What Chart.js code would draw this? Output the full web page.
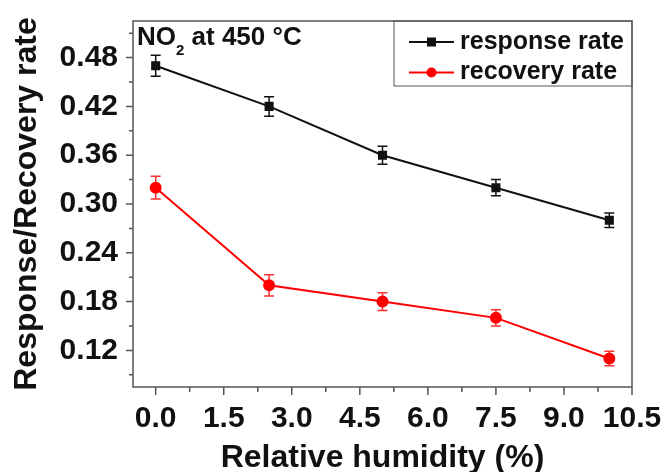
<!DOCTYPE html>
<html>
<head>
<meta charset="utf-8">
<script src="https://cdn.jsdelivr.net/npm/chart.js@4.4.0/dist/chart.umd.min.js"></script>
<style>
  html, body { margin: 0; padding: 0; background: #fff; }
  #wrap { width: 667px; height: 472px; }
</style>
</head>
<body>
<div id="wrap"><canvas id="chart" width="667" height="472"></canvas></div>
<script>
// data
const humidity = [0, 2.5, 5, 7.5, 10];
const responseRate = [0.47, 0.42, 0.36, 0.32, 0.28];
const responseErr = [0.013, 0.012, 0.011, 0.010, 0.009];
const recoveryRate = [0.32, 0.20, 0.18, 0.16, 0.11];
const recoveryErr = [0.014, 0.013, 0.011, 0.010, 0.009];
const xTicks = [0, 1.5, 3, 4.5, 6, 7.5, 9, 10.5];
const yTicks = [0.12, 0.18, 0.24, 0.30, 0.36, 0.42, 0.48];
const xMinor = [0.75, 2.25, 3.75, 5.25, 6.75, 8.25, 9.75];
const yMinor = [0.09, 0.15, 0.21, 0.27, 0.33, 0.39, 0.45, 0.51];

const FONT = "'Liberation Sans', Arial, sans-serif";

function pts(xs, ys) {
    return xs.map((x, i) => ({ x: x, y: ys[i] }));
}

// error bars, axis frame, ticks, note and legend
const extras = {
    id: 'extras',
    beforeDatasetsDraw(chart) {
        const ctx = chart.ctx;
        const xs = chart.scales.x, ys = chart.scales.y;
        const errs = [responseErr, recoveryErr];
        const cols = ['#111', '#ff3030'];
        ctx.save();
        ctx.lineWidth = 1.5;
        chart.data.datasets.forEach((ds, di) => {
            ctx.strokeStyle = cols[di];
            ds.data.forEach((p, i) => {
                const px = xs.getPixelForValue(p.x);
                const top = ys.getPixelForValue(p.y + errs[di][i]);
                const bot = ys.getPixelForValue(p.y - errs[di][i]);
                ctx.beginPath();
                ctx.moveTo(px, top); ctx.lineTo(px, bot);
                ctx.moveTo(px - 5, top); ctx.lineTo(px + 5, top);
                ctx.moveTo(px - 5, bot); ctx.lineTo(px + 5, bot);
                ctx.stroke();
            });
        });
        ctx.restore();
    },
    afterDraw(chart) {
        const ctx = chart.ctx;
        const a = chart.chartArea;
        const xs = chart.scales.x, ys = chart.scales.y;
        ctx.save();
        // frame
        ctx.strokeStyle = '#555';
        ctx.lineWidth = 1.5;
        ctx.strokeRect(a.left, a.top, a.right - a.left, a.bottom - a.top);
        // ticks
        ctx.beginPath();
        xTicks.forEach(v => { const p = xs.getPixelForValue(v); ctx.moveTo(p, a.bottom); ctx.lineTo(p, a.bottom + 8); });
        xMinor.forEach(v => { const p = xs.getPixelForValue(v); ctx.moveTo(p, a.bottom); ctx.lineTo(p, a.bottom + 5); });
        yTicks.forEach(v => { const p = ys.getPixelForValue(v); ctx.moveTo(a.left, p); ctx.lineTo(a.left - 7, p); });
        yMinor.forEach(v => { const p = ys.getPixelForValue(v); ctx.moveTo(a.left, p); ctx.lineTo(a.left - 4, p); });
        ctx.stroke();

        // note top left
        ctx.fillStyle = '#111';
        ctx.textBaseline = 'alphabetic';
        ctx.textAlign = 'left';
        ctx.font = 'bold 26px ' + FONT;
        let x = a.left + 4;
        ctx.fillText('NO', x, 45);
        x += ctx.measureText('NO').width;
        ctx.font = 'bold 15px ' + FONT;
        ctx.fillText('2', x, 55);
        x += ctx.measureText('2').width;
        ctx.font = 'bold 26px ' + FONT;
        ctx.fillText(' at 450 \u00B0C', x, 45);

        // legend
        const lx = 394, ly = a.top;
        ctx.strokeStyle = '#555';
        ctx.lineWidth = 1;
        ctx.strokeRect(lx, ly, a.right - lx, 86 - ly);
        const rows = [42, 72.5];
        ctx.font = 'bold 25px ' + FONT;
        chart.data.datasets.forEach((ds, i) => {
            const y = rows[i];
            ctx.strokeStyle = ds.borderColor;
            ctx.lineWidth = 2;
            ctx.beginPath();
            ctx.moveTo(409, y); ctx.lineTo(454, y);
            ctx.stroke();
            ctx.fillStyle = ds.pointBackgroundColor;
            if (ds.pointStyle === 'rect') {
                ctx.fillRect(431.5 - 4.5, y - 4.5, 9, 9);
            } else {
                ctx.beginPath();
                ctx.arc(431.5, y, 5, 0, Math.PI * 2);
                ctx.fill();
            }
            ctx.fillStyle = '#111';
            ctx.fillText(ds.label, 460, y + 6.5);
        });
        ctx.restore();
    }
};

new Chart(document.getElementById('chart'), {
    type: 'line',
    data: {
        datasets: [{
            label: 'response rate',
            data: pts(humidity, responseRate),
            borderColor: '#111',
            backgroundColor: '#111',
            pointBackgroundColor: '#111',
            pointBorderColor: '#111',
            pointStyle: 'rect',
            pointRadius: 5,
            borderWidth: 2
        }, {
            label: 'recovery rate',
            data: pts(humidity, recoveryRate),
            borderColor: '#ff0000',
            backgroundColor: '#ff0000',
            pointBackgroundColor: '#ff0000',
            pointBorderColor: '#ff0000',
            pointStyle: 'circle',
            pointRadius: 5,
            borderWidth: 2
        }]
    },
    options: {
        responsive: false,
        animation: false,
        layout: { padding: { top: 21, right: 35, left: 0, bottom: 0 } },
        plugins: { legend: { display: false }, tooltip: { enabled: false } },
        scales: {
            x: {
                type: 'linear',
                min: -0.5,
                max: 10.5,
                afterBuildTicks: s => { s.ticks = xTicks.map(v => ({ value: v })); },
                afterFit: s => { s.height = 85; s.paddingLeft = 0; s.paddingRight = 0; },
                grid: { display: false, drawTicks: false },
                border: { display: false },
                ticks: {
                    padding: 14,
                    color: '#111',
                    font: { family: FONT, size: 30, weight: 'bold' },
                    callback: v => v.toFixed(1)
                },
                title: {
                    display: true,
                    text: 'Relative humidity (%)',
                    color: '#111',
                    font: { family: FONT, size: 32, weight: 'bold' },
                    padding: { top: 0, bottom: -5 }
                }
            },
            y: {
                min: 0.075,
                max: 0.525,
                afterBuildTicks: s => { s.ticks = yTicks.map(v => ({ value: v })); },
                afterFit: s => { s.width = 133; s.paddingTop = 0; s.paddingBottom = 0; },
                grid: { display: false, drawTicks: false },
                border: { display: false },
                ticks: {
                    padding: 15,
                    color: '#111',
                    font: { family: FONT, size: 30, weight: 'bold' },
                    callback: v => v.toFixed(2)
                },
                title: {
                    display: true,
                    text: 'Response/Recovery rate',
                    color: '#111',
                    font: { family: FONT, size: 32, weight: 'bold' },
                    padding: { top: 8, bottom: 0 }
                }
            }
        }
    },
    plugins: [extras]
});
</script>
</body>
</html>
